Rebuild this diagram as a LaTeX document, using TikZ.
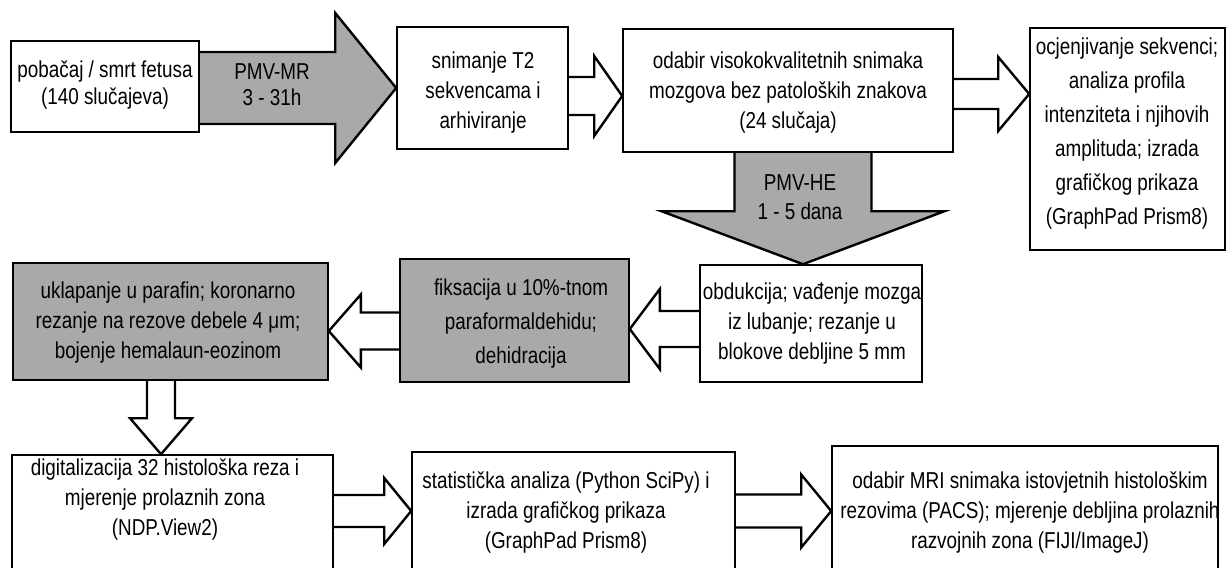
\documentclass[tikz,border=0pt]{standalone}
\usepackage{fontspec}
\setmainfont{Liberation Sans}[FakeStretch=0.82]
\usetikzlibrary{calc,fit}
\definecolor{boxgray}{RGB}{171,168,168}
\pgfdeclarelayer{bg}
\pgfsetlayers{bg,main}
\tikzset{
  box/.style={draw=black, line width=1.6pt, inner sep=0pt, fill=white},
  graybox/.style={box, fill=boxgray},
  txt/.style={align=center, inner sep=0pt, font=\fontsize{23}{30}\selectfont},
  txtwide/.style={txt, font=\fontsize{23}{34}\selectfont},
  arrw/.style={draw=black, line width=2.4pt, fill=white, line join=miter},
  arrg/.style={arrw, fill=boxgray},
}
% #1 style, #2 start, #3 tip, #4 shaft half width, #5 head half width, #6 head length
\newcommand\blockarrow[6]{%
  \coordinate (hb) at ($(#3)!#6!(#2)$);
  \path[#1] ($(#2)!#4!90:(#3)$) -- ($(hb)!#4!90:(#3)$) -- ($(hb)!#5!90:(#3)$)
    -- (#3) -- ($(hb)!#5!-90:(#3)$) -- ($(hb)!#4!-90:(#3)$) -- ($(#2)!#4!-90:(#3)$);
}
\begin{document}
\begin{tikzpicture}[x=1pt,y=-1pt]
\useasboundingbox (0,0) rectangle (1230,567);
\clip (0,0) rectangle (1230,567);
\begin{pgfonlayer}{bg}
\fill[white] (0,0) rectangle (1230,567);
\end{pgfonlayer}

% boxes
\node[box, fit={(11,41) (199,132)}] (b1) {};
\node[box, fit={(397,27) (568,149)}] (b2) {};
\node[box, fit={(623,29) (953,152)}] (b3) {};
\node[box, fit={(1030,28) (1225,250)}] (b4) {};
\node[box, fit={(700,265) (922,382)}] (b5) {};
\node[graybox, fit={(400,259) (629,382)}] (b6) {};
\node[graybox, fit={(13,263) (328,380)}] (b7) {};
\node[box, fit={(12,455) (333,600)}] (b8) {};
\node[box, fit={(412,452) (735,600)}] (b9) {};
\node[box, fit={(832,446) (1218,600)}] (b10) {};

% texts
\node[txt, font=\fontsize{23}{27}\selectfont] (t1) at (105,85) {pobačaj / smrt fetusa\\(140 slučajeva)};
\node[txt] (t2) at (483,93) {snimanje T2\\sekvencama i\\arhiviranje};
\node[txt] (t3) at (788,93) {odabir visokokvalitetnih snimaka\\mozgova bez patoloških znakova\\(24 slučaja)};
\node[txtwide] (t4) at (1127,134) {ocjenjivanje sekvenci;\\analiza profila\\intenziteta i njihovih\\amplituda; izrada\\grafičkog prikaza\\(GraphPad Prism8)};
\node[txt] (t5) at (812,324) {obdukcija; vađenje mozga\\iz lubanje; rezanje u\\blokove debljine 5 mm};
\node[txtwide] (t6) at (521,324) {fiksacija u 10\%-tnom\\paraformaldehidu;\\dehidracija};
\node[txt] (t7) at (168,323) {uklapanje u parafin; koronarno\\rezanje na rezove debele 4 μm;\\bojenje hemalaun-eozinom};
\node[txt] (t8) at (165,500) {digitalizacija 32 histološka reza i\\mjerenje prolaznih zona\\(NDP.View2)};
\node[txt] (t9) at (566,513) {statistička analiza (Python SciPy) i\\izrada grafičkog prikaza\\(GraphPad Prism8)};
\node[txt] (t10) at (1030,513) {odabir MRI snimaka istovjetnih histološkim\\rezovima (PACS); mjerenje debljina prolaznih\\razvojnih zona (FIJI/ImageJ)};

% arrow end points
\coordinate (a1s) at (b1.east |- 0,88);   \coordinate (a1e) at (b2.west |- 0,88);
\coordinate (a2s) at (b2.east |- 0,96);   \coordinate (a2e) at (b3.west |- 0,96);
\coordinate (a3s) at (b3.east |- 0,94);   \coordinate (a3e) at (b4.west |- 0,94);
\coordinate (a4s) at (803,0 |- b3.south); \coordinate (a4e) at (803,0 |- b5.north);
\coordinate (a5s) at (b5.west |- 0,329);  \coordinate (a5e) at (b6.east |- 0,329);
\coordinate (a6s) at (b6.west |- 0,331);  \coordinate (a6e) at (b7.east |- 0,331);
\coordinate (a7s) at (161,0 |- b7.south); \coordinate (a7e) at (161,0 |- b8.north);
\coordinate (a8s) at (b8.east |- 0,511);  \coordinate (a8e) at (b9.west |- 0,511);
\coordinate (a9s) at (b9.east |- 0,511);  \coordinate (a9e) at (b10.west |- 0,511);

\begin{pgfonlayer}{bg}
\blockarrow{arrg}{a1s}{a1e}{36pt}{75pt}{61pt}
\blockarrow{arrw}{a2s}{a2e}{19pt}{40pt}{28pt}
\blockarrow{arrw}{a3s}{a3e}{15pt}{37pt}{31pt}
\blockarrow{arrg}{a4s}{a4e}{68.5pt}{141.5pt}{53pt}
\blockarrow{arrw}{a5s}{a5e}{18pt}{40pt}{30pt}
\blockarrow{arrw}{a6s}{a6e}{18.5pt}{36.5pt}{32pt}
\blockarrow{arrw}{a7s}{a7e}{14pt}{31pt}{36pt}
\blockarrow{arrw}{a8s}{a8e}{16pt}{33pt}{27pt}
\blockarrow{arrw}{a9s}{a9e}{16.5pt}{36.5pt}{30pt}
\end{pgfonlayer}

\node[txt, font=\fontsize{23}{26}\selectfont] (l1) at (272,85) {PMV-MR\\3 - 31h};
\node[txt, font=\fontsize{23}{29}\selectfont] (l2) at (800,197) {PMV-HE\\1 - 5 dana};
\end{tikzpicture}
\end{document}
